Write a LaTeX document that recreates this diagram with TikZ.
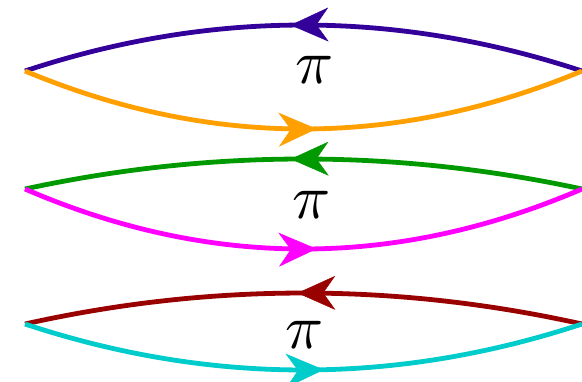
\documentclass[tikz,border=0pt]{standalone}
\usepackage{graphicx}
\usetikzlibrary{arrows.meta,decorations.markings}
\definecolor{cA}{RGB}{51,0,153}
\definecolor{cB}{RGB}{255,160,0}
\definecolor{cC}{RGB}{0,153,0}
\definecolor{cD}{RGB}{255,0,255}
\definecolor{cE}{RGB}{153,0,0}
\definecolor{cF}{RGB}{0,204,204}
\newcommand{\bigpi}{\scalebox{6.3}{$\pi$}}
\tikzset{
  arcline/.style={line width=4.8pt},
  midarrow/.style={postaction={decorate}, decoration={markings, mark=at position #1 with {\arrow{Stealth[length=38pt,width=34pt,inset=12pt,line width=0.5pt]}}}},
  midarrow/.default=0.523,
  pilabel/.style={inner sep=0pt}
}
\begin{document}
\begin{tikzpicture}[x=1pt,y=-1pt]
\useasboundingbox (0,0) rectangle (582,381);
% lens 1
\coordinate (L1) at (25,71); \coordinate (R1) at (582,71);
\coordinate (U1a) at (210.3,9.7); \coordinate (U1b) at (395.7,9.7);
\coordinate (D1a) at (210.3,148.3); \coordinate (D1b) at (395.7,148.3);
\draw[arcline, cA, midarrow] (R1) .. controls (U1b) and (U1a) .. (L1);
\draw[arcline, cB, midarrow] (L1) .. controls (D1a) and (D1b) .. (R1);
\node[pilabel] (p1) at (315,70) {\bigpi};
% lens 2
\coordinate (L2) at (25,189); \coordinate (R2) at (582,189);
\coordinate (U2a) at (210.3,149); \coordinate (U2b) at (395.7,149);
\coordinate (D2a) at (210.3,269); \coordinate (D2b) at (395.7,269);
\draw[arcline, cC, midarrow] (R2) .. controls (U2b) and (U2a) .. (L2);
\draw[arcline, cD, midarrow] (L2) .. controls (D2a) and (D2b) .. (R2);
\node[pilabel] (p2) at (312,205) {\bigpi};
% lens 3
\coordinate (L3) at (25,324); \coordinate (R3) at (582,324);
\coordinate (U3a) at (210.3,282.7); \coordinate (U3b) at (395.7,282.7);
\coordinate (D3a) at (210.3,385.3); \coordinate (D3b) at (395.7,385.3);
\draw[arcline, cE, midarrow=0.511] (R3) .. controls (U3b) and (U3a) .. (L3);
\draw[arcline, cF, midarrow=0.536] (L3) .. controls (D3a) and (D3b) .. (R3);
\node[pilabel] (p3) at (305,335) {\bigpi};
\end{tikzpicture}
\end{document}
